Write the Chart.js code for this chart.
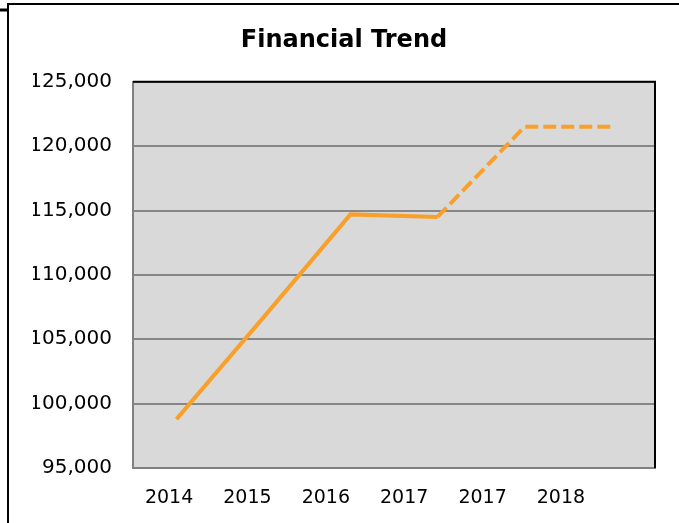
<!DOCTYPE html>
<html>
<head>
<meta charset="utf-8">
<title>Financial Trend</title>
<script src="https://cdn.jsdelivr.net/npm/chart.js@4"></script>
<style>
  html, body { margin: 0; padding: 0; background: #fff; }
  #wrap { width: 679px; height: 523px; position: relative; }
</style>
</head>
<body>
<div id="wrap"><canvas id="trendChart"></canvas></div>
<script>
// === data ===
const yearLabels = ["2014", "2015", "2016", "2017", "2017", "2018"];
const actualValues = [98800, 106700, 114700, 114500, null, null];
const forecastValues = [null, null, null, 114500, 121500, 121500];
const yTicks = { min: 95000, max: 125000, step: 5000 };

const lineColor = "#f9a02b";
const fontFamily = "'DejaVu Sans', Verdana, sans-serif";

// === plot background + frame ===
const framePlugin = {
  id: "frame",
  beforeDraw(chart) {
    const { ctx, chartArea: a } = chart;
    ctx.save();
    ctx.fillStyle = "#d9d9d9";
    ctx.fillRect(a.left, a.top, a.right - a.left, a.bottom - a.top);
    ctx.restore();
  },
  afterDraw(chart) {
    const { ctx, chartArea: a } = chart;
    ctx.save();
    // top + right edge of plot area are black
    ctx.strokeStyle = "#000";
    ctx.lineWidth = 2;
    ctx.beginPath();
    ctx.moveTo(a.left, a.top);
    ctx.lineTo(a.right, a.top);
    ctx.lineTo(a.right, a.bottom);
    ctx.stroke();
    // outer sheet border (top + left)
    ctx.beginPath();
    ctx.moveTo(8, chart.height);
    ctx.lineTo(8, 4);
    ctx.lineTo(chart.width, 4);
    ctx.stroke();
    ctx.lineWidth = 3;
    ctx.beginPath();
    ctx.moveTo(0, 10);
    ctx.lineTo(8, 10);
    ctx.stroke();
    ctx.restore();
  },
};

new Chart(document.getElementById("trendChart"), {
  type: "line",
  data: {
    labels: yearLabels,
    datasets: [
      {
        data: actualValues,
        borderColor: lineColor,
        borderWidth: 4,
        pointRadius: 0,
        tension: 0,
      },
      {
        data: forecastValues,
        borderColor: lineColor,
        borderWidth: 4,
        borderDash: [13, 5],
        pointRadius: 0,
        tension: 0,
      },
    ],
  },
  options: {
    responsive: true,
    maintainAspectRatio: false,
    animation: false,
    layout: { padding: { left: 33, right: 24, top: 0, bottom: 0 } },
    plugins: {
      legend: { display: false },
      tooltip: { enabled: false },
      title: {
        display: true,
        text: "Financial Trend",
        color: "#000",
        font: { family: fontFamily, size: 24, weight: "bold" },
        padding: { top: 26, bottom: 27 },
      },
    },
    scales: {
      x: {
        display: false,
        offset: true,
      },
      // year labels sit on their own axis (narrower spacing than the data)
      xLabels: {
        type: "linear",
        position: "bottom",
        min: -0.46,
        max: 6.2,
        afterBuildTicks: (scale) => {
          scale.ticks = yearLabels.map((_, i) => ({ value: i }));
        },
        afterFit: (scale) => {
          scale.height = 55;
        },
        grid: { display: false, drawTicks: false },
        border: { display: true, color: "#808080", width: 2 },
        ticks: {
          padding: 19,
          maxRotation: 0,
          autoSkip: false,
          color: "#000",
          font: { family: fontFamily, size: 19 },
          callback: (v) => yearLabels[v],
        },
      },
      y: {
        min: yTicks.min,
        max: yTicks.max,
        afterFit: (scale) => {
          scale.width = 100;
        },
        grid: { color: "#878787", lineWidth: 2, drawTicks: false },
        border: { display: true, color: "#808080", width: 2 },
        ticks: {
          stepSize: yTicks.step,
          padding: 21,
          color: "#000",
          font: { family: fontFamily, size: 20 },
        },
      },
    },
  },
  plugins: [framePlugin],
});
</script>
</body>
</html>
